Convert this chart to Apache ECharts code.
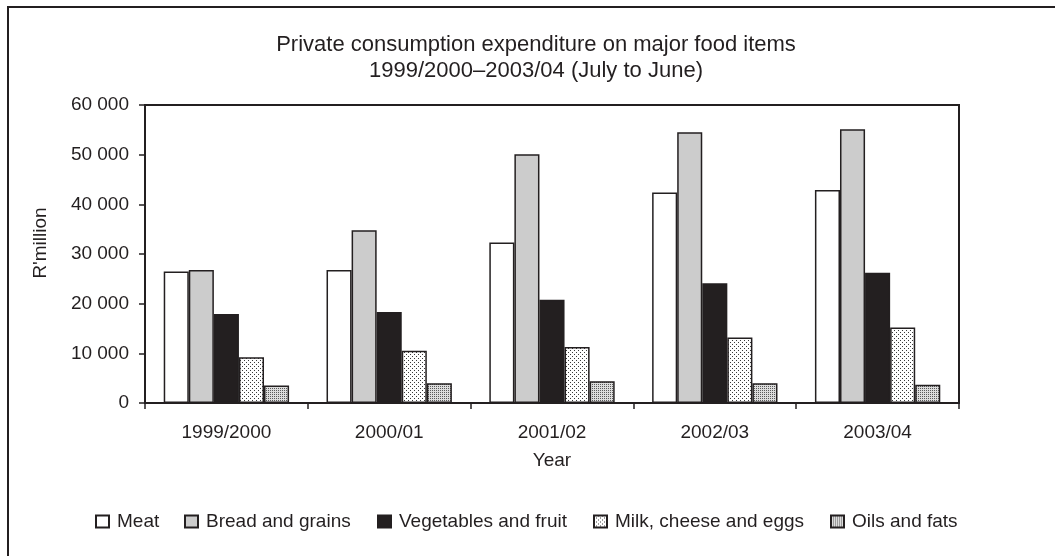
<!DOCTYPE html>
<html>
<head>
<meta charset="utf-8">
<script src="https://cdn.jsdelivr.net/npm/echarts@6/dist/echarts.min.js"></script>
<style>
  html, body { margin: 0; padding: 0; background: #fff; }
  #chart { width: 1055px; height: 556px; }
</style>
</head>
<body>
<div id="chart"></div>
<script>
// Private consumption expenditure (R'million), July-to-June years
const years = ['1999/2000', '2000/01', '2001/02', '2002/03', '2003/04'];
const meat = [26500, 26800, 32300, 42400, 42900];
const breadGrains = [26800, 34800, 50100, 54500, 55100];
const vegFruit = [17900, 18300, 20800, 24100, 26200];
const milkCheeseEggs = [9200, 10500, 11300, 13200, 15200];
const oilsFats = [3500, 4000, 4400, 4000, 3650];
const seriesNames = ['Meat', 'Bread and grains', 'Vegetables and fruit', 'Milk, cheese and eggs', 'Oils and fats'];

const INK = '#231f20';
const FONT = 'Liberation Sans, Arial, sans-serif';

// Dot hatch fills
function dotPattern(size, bg, dots, dotColor) {
  const c = document.createElement('canvas');
  c.width = size; c.height = size;
  const g = c.getContext('2d');
  g.fillStyle = bg; g.fillRect(0, 0, size, size);
  g.fillStyle = dotColor;
  dots.forEach(([x, y]) => g.fillRect(x, y, 1, 1));
  return { image: c, repeat: 'repeat' };
}
const sparseDots = dotPattern(4, '#ffffff', [[0, 0], [2, 2]], '#3a3a3a');
const denseDots = dotPattern(2, '#dcdcdc', [[0, 0]], '#5a5a5a');

const fills = ['#ffffff', '#cccccc', INK, sparseDots, denseDots];
const values = [meat, breadGrains, vegFruit, milkCheeseEggs, oilsFats];

function spaced(v) {
  return String(v).replace(/\B(?=(\d{3})+(?!\d))/g, ' ');
}

// One legend entry per series, laid out along the bottom row
const legendLeft = [95, 184, 377, 593, 830];
const legends = seriesNames.map((name, i) => ({
  left: legendLeft[i],
  top: 512,
  padding: 0,
  itemWidth: 13,
  itemHeight: 12,
  icon: 'rect',
  textStyle: { fontFamily: FONT, fontSize: 19, color: INK, padding: [0, 0, 0, 3] },
  data: [name]
}));

const chart = echarts.init(document.getElementById('chart'), null, { renderer: 'canvas' });
chart.setOption({
  animation: false,
  backgroundColor: '#fff',
  textStyle: { fontFamily: FONT, color: INK },
  title: {
    text: 'Private consumption expenditure on major food items\n1999/2000\u20132003/04 (July to June)',
    left: 531,
    top: 27,
    textAlign: 'center',
    textStyle: { fontFamily: FONT, fontSize: 22, fontWeight: 'normal', color: INK, lineHeight: 26 }
  },
  graphic: [{
    type: 'rect',
    shape: { x: 8, y: 7, width: 1200, height: 700 },
    style: { fill: 'none', stroke: INK, lineWidth: 2 },
    silent: true
  }, {
    type: 'text',
    x: 40.5,
    y: 243,
    rotation: Math.PI / 2,
    style: { text: "R'million", font: '19px ' + FONT, fill: INK, align: 'center', verticalAlign: 'middle' },
    silent: true
  }],
  legend: legends,
  grid: {
    left: 145, top: 105, right: 96, bottom: 153,
    show: true, borderColor: INK, borderWidth: 2, backgroundColor: 'transparent'
  },
  xAxis: {
    type: 'category',
    data: years,
    name: 'Year',
    nameLocation: 'middle',
    nameGap: 48,
    nameTextStyle: { fontFamily: FONT, fontSize: 19, color: INK },
    axisLine: { lineStyle: { color: INK, width: 2 } },
    axisTick: { show: true, alignWithLabel: false, length: 6, lineStyle: { color: INK, width: 1.5 } },
    axisLabel: { margin: 20, fontFamily: FONT, fontSize: 19, color: INK }
  },
  yAxis: {
    type: 'value',
    min: 0, max: 60000, interval: 10000,
    axisLine: { show: true, lineStyle: { color: INK, width: 2 } },
    axisTick: { show: true, length: 6, lineStyle: { color: INK, width: 1.5 } },
    splitLine: { show: false },
    axisLabel: { margin: 16, fontFamily: FONT, fontSize: 19, color: INK, formatter: spaced }
  },
  series: seriesNames.map((name, i) => ({
    name,
    type: 'bar',
    data: values[i],
    barGap: '0%',
    barCategoryGap: '23%',
    itemStyle: { color: fills[i], borderColor: INK, borderWidth: 1.5 }
  }))
});
</script>
</body>
</html>
